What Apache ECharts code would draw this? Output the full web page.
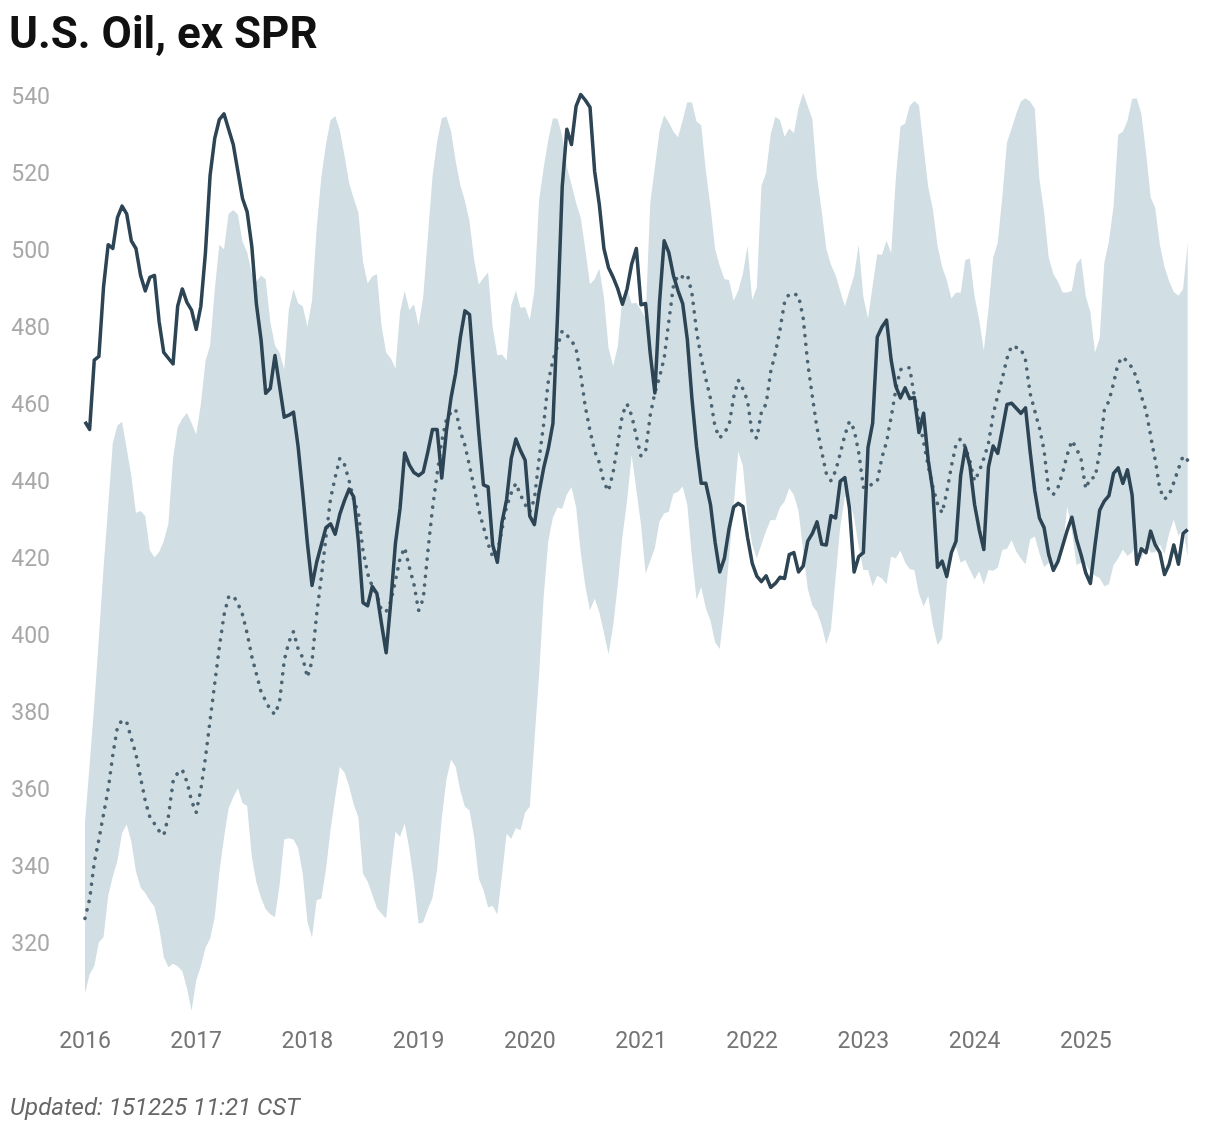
<!DOCTYPE html>
<html>
<head>
<meta charset="utf-8">
<script src="https://cdn.jsdelivr.net/npm/echarts@6/dist/echarts.min.js"></script>
<style>
html,body{margin:0;padding:0;background:#ffffff;}
#chart{width:1220px;height:1132px;}
</style>
</head>
<body>
<div id="chart"></div>
<script>
// ---- data (semi-monthly points, million barrels) ----
const startYear = 2016;
const pointsPerYear = 24;
const xTickLabels = [2016, 2017, 2018, 2019, 2020, 2021, 2022, 2023, 2024, 2025];
const yTickLabels = [320, 340, 360, 380, 400, 420, 440, 460, 480, 500, 520, 540];

const actual = [
  455, 453, 471, 472, 490, 501, 500, 508, 511, 509, 502, 500, 493, 489, 492.5, 493, 481, 473, 471.5, 470, 485, 489.5, 486, 484,
  479, 485, 499, 519, 528.6, 533.5, 535, 531, 527, 520, 513, 509.5, 500.6, 485.5, 476.3, 462.4, 463.7, 472.2, 464.2, 456.2, 456.7, 457.5, 448.5, 436.5,
  423.5, 412.5, 418.5, 423, 427.5, 428.5, 425.8, 431, 434.5, 437.5, 435.5, 424, 408, 407.2, 412.2, 410.4, 402.5, 395, 408.2, 423.4, 432.5, 446.9, 443.8, 441.8,
  441, 441.9, 447.2, 453, 453, 440.4, 452.6, 461.2, 467.6, 476.8, 483.8, 482.8, 467, 452, 438.6, 438.1, 423, 418.5, 428.9, 434.8, 445.5, 450.5, 447.5, 445,
  430.5, 428.3, 436.6, 443, 448, 454.6, 483, 516, 531, 527, 537, 540, 538.5, 536.7, 520, 511.5, 500, 495, 492.5, 489.5, 485.5, 489.5, 496, 500,
  485.4, 485.7, 472.7, 462.5, 486, 502, 499, 493, 489, 485.7, 476.4, 461, 448.5, 439, 439, 433.5, 423.7, 416, 419.5, 427.2, 432.8, 433.8, 433, 425,
  418.3, 414.9, 413.5, 415, 412, 413, 414.6, 414.3, 420.5, 421, 416, 417.5, 424, 426, 429, 423.2, 423, 430.6, 430, 439.5, 440.5, 432.5, 416, 420,
  421, 448.3, 454.6, 477, 479.6, 481.4, 471, 464.2, 461.2, 463.8, 461, 461.3, 452.2, 457.2, 445, 437, 417.2, 418.8, 414.8, 421, 424, 441, 448.3, 443.5,
  433.5, 427, 421.8, 443.2, 448.7, 446.8, 453, 459.5, 459.8, 458.5, 457.2, 458.6, 447.2, 437, 430, 427.5, 420.5, 416.4, 418.7, 422.7, 426.8, 430.2, 424.5, 420.4,
  415.7, 413, 423, 432, 434.4, 435.8, 441.6, 443, 439, 442.5, 436, 418, 422, 421, 426.6, 423, 421, 415.3, 418, 423, 418, 426, 427
];

const fiveYearAvg = [
  326, 331, 340.5, 346.5, 353, 359.5, 368.5, 375.7, 377.5, 377, 372.7, 368.6, 362.5, 356.5, 352.3, 350.6, 348.7, 347.6, 352.5, 361.5, 363.8, 364.6, 361.5, 356.5,
  353.5, 359.5, 367.8, 377.5, 387, 396.5, 404.8, 409.5, 409.8, 407.8, 404.9, 400, 394, 389.5, 384.8, 382.5, 380.1, 379, 382.3, 393, 397.8, 400.5, 396, 393.7,
  388.6, 392.8, 405, 414.6, 425, 435, 440.6, 445.5, 443.9, 439.7, 434.7, 431.3, 421.6, 415.5, 412.3, 410, 406, 405.7, 408.3, 413.6, 419.5, 422.3, 417.2, 412.8,
  406, 409, 421.3, 432.5, 441.5, 450, 455.5, 457.5, 458.2, 452.5, 448.9, 443.5, 437.8, 431.9, 427.7, 423.3, 420, 421, 427, 433, 436.5, 439, 436, 433.5,
  431.6, 435, 445.2, 454.5, 465.5, 471, 474.7, 478.6, 477.5, 476.1, 474, 467.2, 458.8, 452.6, 447.4, 444.4, 439.2, 437, 442, 449.4, 457, 459.6, 456.6, 451.2,
  446.1, 447.4, 456.7, 462.6, 466.5, 471.5, 481, 490.3, 493.1, 492.6, 493.2, 488.4, 478.6, 471.5, 466.1, 461, 453.6, 450.8, 452.2, 454, 461.4, 465.8, 463.5, 460.5,
  452, 450.7, 457.6, 459.6, 468, 472.8, 478.9, 486.2, 488.2, 488.2, 487.8, 482, 470.2, 461.5, 453.3, 447.3, 441.6, 439.7, 442.2, 446.7, 451.5, 455.1, 453, 447,
  438, 437.9, 439, 439.5, 445.7, 449.7, 456.2, 463.4, 468.5, 469.2, 469, 461.7, 455.4, 449.7, 443.4, 438.1, 433.7, 431.3, 436.7, 443.5, 449.1, 450.6, 448.5, 444.7,
  439.6, 442.1, 445.5, 449.4, 456.8, 461.8, 466.3, 471.5, 474.7, 474.3, 474, 471, 462.3, 457.8, 453.3, 447.6, 437.1, 436.1, 437.9, 441.7, 446.4, 450.1, 448.1, 445.2,
  437.6, 440.4, 440.5, 447, 458, 460.4, 465, 470.2, 471.8, 470.6, 469, 466.4, 461.6, 457.9, 451.3, 445, 437.5, 434.9, 436, 439.2, 442.8, 446.1, 445
];

const fiveYearMax = [
  351, 366, 381.5, 399, 417, 433, 449.5, 454, 455, 448, 441, 431.3, 431.8, 430.5, 421.6, 419.8, 421.2, 424, 428.5, 445.5, 453.6, 455.8, 457.3, 454.7,
  451.7, 459.5, 470.7, 474.8, 489.2, 501, 499.8, 509, 510, 508.8, 501.8, 499, 493.5, 491.4, 493, 492, 481, 474.8, 473, 468.6, 484.2, 489.4, 485.8, 485,
  479.7, 486.5, 505.2, 518.5, 527, 533.3, 534.4, 530.8, 524.2, 517, 513, 509.4, 496.6, 491, 492.7, 493.4, 480, 473, 471.5, 468.8, 483.5, 489, 484, 485.5,
  480, 487.5, 503, 518.7, 527.7, 533.8, 534.3, 530.5, 522.8, 516.5, 512.4, 507, 497, 490.7, 492.3, 493.8, 479.5, 472.3, 472.5, 471, 485.2, 489, 484.6, 484.8,
  481.4, 489, 512.5, 521, 528.3, 533.8, 533.7, 529.2, 521.2, 516.7, 511.9, 508, 499.7, 490.7, 492, 494.8, 487.4, 474.2, 469.5, 474.7, 487.3, 489.8, 485.7, 485.9,
  484, 482, 511.8, 521.2, 530.5, 534.6, 532.8, 530.4, 528.9, 533.3, 538, 537.9, 533, 532, 520.2, 511, 499.8, 495.5, 492.1, 491.8, 486.5, 489, 493.5, 500.8,
  486.7, 489.8, 516.3, 519.6, 529.7, 534.2, 533.4, 529, 531.2, 530, 536.5, 540.4, 537, 533.5, 518.6, 509.8, 500, 495.8, 493.1, 489, 485, 489, 493, 501,
  487.5, 481.9, 490.3, 498.5, 498.4, 502, 498.8, 518.2, 531.7, 532.5, 537, 538.3, 537.2, 526.5, 516, 510.2, 500.8, 495.2, 491.8, 487, 488.6, 488.5, 497, 497.4,
  487.6, 481.5, 473.5, 484.3, 497.6, 501.5, 513.5, 527.6, 531.2, 535, 538.2, 539, 538.2, 536.3, 518, 509.6, 497.7, 493.4, 491.4, 488.6, 488.6, 489, 496, 497.5,
  487.6, 483.5, 473, 476.7, 496.3, 501.8, 511, 529.6, 530.3, 533.2, 538.8, 539, 535, 525, 513.4, 510.5, 501, 495.2, 491.5, 488.7, 487.7, 489.5, 501.5
];

const fiveYearMin = [
  306.5, 311.5, 313.6, 319.8, 321.1, 331.8, 336.8, 341, 348.1, 350.4, 346, 338.2, 334, 332.6, 330.6, 329, 323.7, 316, 313.3, 314.2, 313.6, 312.3, 307.9, 302,
  309.8, 313.6, 318.3, 320.7, 326.3, 338, 346.9, 354.6, 357.5, 359.8, 356, 355.2, 342, 335.3, 331.3, 328.4, 327.1, 326.3, 334.7, 346.5, 346.8, 346.5, 344.3, 337.6,
  325.2, 321, 330.7, 331.1, 338.6, 349, 357.4, 365.3, 363.9, 360.3, 355.6, 352.3, 337.6, 335.6, 332.2, 328.7, 327.2, 326, 338, 348.5, 347.2, 350.6, 344, 335.5,
  324.6, 325, 328.4, 331.3, 338.7, 351.9, 362, 367.2, 365.4, 359.2, 355, 354, 347.1, 336.3, 333.4, 328.9, 329.2, 327, 337.2, 348, 346.7, 349.4, 348.9, 353.5,
  355, 372, 389, 409.5, 424, 430.1, 432.7, 432.4, 436.1, 438, 432.8, 421, 412.2, 406, 409, 405.6, 400.2, 394.6, 402, 412.7, 425.2, 434.4, 446.3, 437.3,
  428.3, 415.5, 418.8, 422.2, 429.1, 431.2, 431.6, 436.3, 436.8, 438.2, 433.4, 419.9, 408.8, 412.1, 406.5, 403.4, 397.7, 396, 406.5, 419.5, 433, 447.3, 443.5, 430.6,
  423.2, 419.5, 423.1, 426.6, 429.5, 429.4, 432.7, 434.3, 437.7, 436, 431.9, 421.6, 411.6, 407.3, 405.6, 402.1, 397.3, 401.1, 414.3, 427.6, 435.5, 435.1, 430, 422.5,
  416.5, 416.5, 412.3, 415, 414.3, 412.8, 420, 419.5, 421.5, 418.5, 416.7, 416.5, 410.3, 407, 409.8, 402.3, 397, 398.7, 412.5, 421, 422.4, 418.4, 419.1, 416.5,
  414, 416.1, 412.7, 416.5, 416.3, 417.1, 421.7, 422, 424.2, 421.3, 419.5, 418, 424.4, 425.2, 420.8, 417.3, 418.3, 417.5, 419.2, 421.3, 433, 426.6, 417.8, 418.4,
  418, 415.9, 415, 414.4, 412.3, 412.8, 417.8, 419.5, 421.8, 420.1, 421.1, 423.1, 419.2, 423.6, 421, 421.1, 423.1, 420.6, 426, 429.6, 425.4, 427, 420
];

// ---- build series data ----
const xOf = i => startYear + i / pointsPerYear;
const pairs = arr => arr.map((v, i) => [xOf(i), v]);

const chart = echarts.init(document.getElementById('chart'), null, {renderer: 'canvas'});
chart.setOption({
  animation: false,
  backgroundColor: '#ffffff',
  title: {
    text: 'U.S. Oil, ex SPR',
    left: 4,
    top: 10,
    textStyle: {fontFamily: 'Roboto', fontWeight: 'bold', fontSize: 44, color: '#111111'}
  },
  graphic: [{
    type: 'text',
    left: 10,
    top: 1097,
    style: {text: 'Updated: 151225 11:21 CST', font: 'italic 24px Roboto', fill: '#666666'}
  }],
  grid: {left: 85, right: 28.6, top: 94.5, bottom: 113.5, containLabel: false},
  xAxis: {
    type: 'value',
    min: 2016,
    max: 2025.95,
    interval: 1,
    axisLine: {show: false},
    axisTick: {show: false},
    splitLine: {show: false},
    axisLabel: {
      margin: 12,
      fontFamily: 'Roboto',
      fontSize: 23,
      color: '#757575',
      showMaxLabel: false,
      formatter: v => xTickLabels.includes(v) ? String(v) : ''
    }
  },
  yAxis: {
    type: 'value',
    min: 300,
    max: 540,
    interval: 20,
    axisLine: {show: false},
    axisTick: {show: false},
    splitLine: {show: false},
    axisLabel: {
      margin: 35,
      verticalAlign: 'top',
      lineHeight: 7,
      fontFamily: 'Roboto',
      fontSize: 23,
      color: '#a8a8a8',
      showMinLabel: false,
      formatter: v => yTickLabels.includes(v) ? String(v) : ''
    }
  },
  series: [
    {
      name: '5y range',
      type: 'custom',
      data: [[startYear, 300]],
      silent: true,
      clip: false,
      z: 1,
      renderItem: (params, api) => {
        const pts = [];
        for (let i = 0; i < fiveYearMax.length; i++) pts.push(api.coord([xOf(i), fiveYearMax[i]]));
        for (let i = fiveYearMin.length - 1; i >= 0; i--) pts.push(api.coord([xOf(i), fiveYearMin[i]]));
        return {type: 'polygon', shape: {points: pts}, style: {fill: '#d1dfe4'}};
      }
    },
    {
      name: '5y avg', type: 'line', data: pairs(fiveYearAvg), symbol: 'none', clip: false, z: 3,
      lineStyle: {color: '#4b6372', width: 3.6, type: [0.1, 8.6], cap: 'round'}
    },
    {
      name: 'Actual', type: 'line', data: pairs(actual), symbol: 'none', clip: false, z: 4,
      lineStyle: {color: '#2c4454', width: 3.5, join: 'round'}
    }
  ]
});
</script>
</body>
</html>
